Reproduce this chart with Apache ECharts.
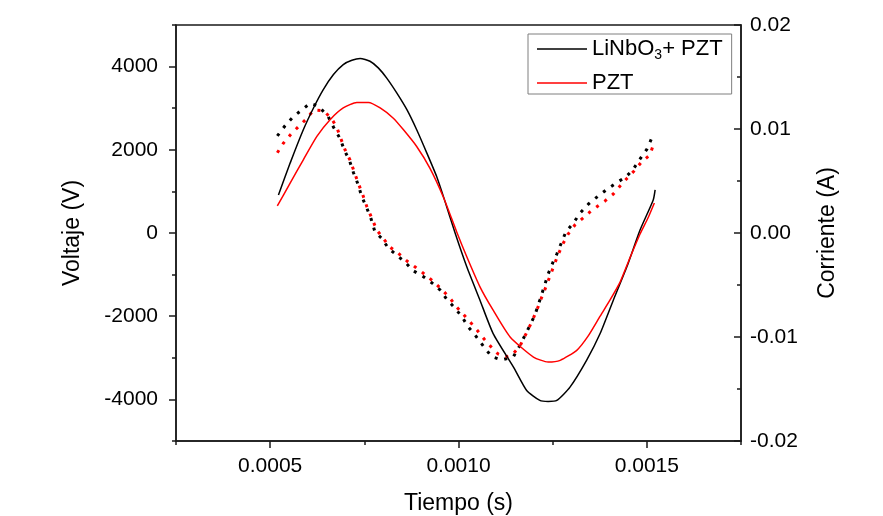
<!DOCTYPE html>
<html><head><meta charset="utf-8">
<script src="https://cdn.jsdelivr.net/npm/echarts@6/dist/echarts.min.js"></script>
<style>html,body{margin:0;padding:0;background:#fff;}#c{width:883px;height:516px;}</style>
</head><body><div id="c"></div>
<script>
// Voltage, LiNbO3 + PZT (s, V)
const timeBlackV = [0.000522,0.000553,0.000588,0.000615,0.000641,0.000668,0.000694,0.000717,0.000739,0.000765,0.000787,0.000809,0.000836,0.000863,0.000889,0.000916,0.000942,0.000962,0.000991,0.001022,0.001057,0.001092,0.001146,0.001181,0.001216,0.001238,0.001261,0.001296,0.00134,0.001376,0.001411,0.001447,0.001482,0.001517,0.001522];
const voltBlack = [916,1680,2482,3005,3446,3808,4049,4152,4193,4128,3969,3728,3367,2964,2482,1921,1357,820,0,-812,-1615,-2417,-3222,-3784,-4025,-4050,-4025,-3704,-3061,-2417,-1615,-812,72,795,1036];
// Voltage, PZT
const timeRedV = [0.000519,0.000553,0.000588,0.000624,0.000659,0.000694,0.00073,0.000761,0.000792,0.000827,0.000854,0.000889,0.000924,0.00096,0.000995,0.001022,0.001057,0.001092,0.001137,0.001199,0.001238,0.00127,0.001314,0.001344,0.001376,0.001402,0.001429,0.001455,0.001482,0.001503,0.00152];
const voltRed = [651,1198,1759,2321,2723,3005,3140,3140,3005,2760,2480,2080,1560,860,31,-571,-1294,-1856,-2499,-2981,-3102,-3061,-2820,-2480,-2000,-1615,-1180,-600,-24,360,723];
// Current, LiNbO3 + PZT (s, A)
const timeBlackI = [0.000519,0.000539,0.000561,0.000584,0.000606,0.000628,0.000654,0.000668,0.000685,0.000697,0.000711,0.000721,0.000733,0.000743,0.000756,0.000768,0.000778,0.000796,0.000814,0.000836,0.000861,0.00088,0.000907,0.000929,0.000951,0.000969,0.000991,0.001009,0.001026,0.001044,0.001066,0.001088,0.001115,0.001146,0.001161,0.001177,0.00119,0.001203,0.001216,0.001228,0.001238,0.00125,0.001261,0.001274,0.001285,0.001305,0.001323,0.001345,0.001371,0.001398,0.00142,0.001445,0.001464,0.001482,0.0015,0.001513];
const currBlack = [0.00933,0.01029,0.01118,0.01183,0.01247,0.01221,0.0112,0.01019,0.00911,0.00798,0.00692,0.00582,0.00471,0.00352,0.00245,0.00135,0.00013,-0.00051,-0.00147,-0.00212,-0.00291,-0.00363,-0.0042,-0.00478,-0.00548,-0.00638,-0.00724,-0.00805,-0.00904,-0.00981,-0.01087,-0.01189,-0.01221,-0.01189,-0.01093,-0.00981,-0.00885,-0.00788,-0.00644,-0.0051,-0.00394,-0.00288,-0.00202,-0.00087,0.0001,0.00096,0.00192,0.00279,0.00356,0.0043,0.00484,0.00541,0.00613,0.00712,0.00805,0.00911];
// Current, PZT
const timeRedI = [0.000519,0.000535,0.000555,0.000575,0.000595,0.000616,0.000641,0.000662,0.000677,0.000687,0.000699,0.000712,0.000723,0.000734,0.000746,0.000757,0.00077,0.000783,0.0008,0.000818,0.000839,0.000863,0.000885,0.000906,0.000932,0.000954,0.000975,0.000993,0.001012,0.001031,0.001049,0.001068,0.001089,0.001105,0.001124,0.001142,0.001163,0.001179,0.001193,0.001206,0.001219,0.001232,0.001243,0.001254,0.001264,0.001277,0.001291,0.001309,0.001328,0.001349,0.00137,0.001389,0.001411,0.001429,0.001447,0.001466,0.001486,0.001508,0.001519];
const currRed = [0.00772,0.00863,0.00949,0.01022,0.01093,0.01183,0.01176,0.01106,0.01016,0.00913,0.00798,0.00702,0.00589,0.00478,0.00365,0.0025,0.00141,0.00029,-0.00051,-0.00135,-0.00192,-0.00269,-0.00327,-0.00385,-0.00462,-0.00538,-0.00615,-0.00702,-0.00779,-0.00856,-0.00933,-0.01019,-0.01106,-0.01163,-0.01192,-0.01173,-0.01087,-0.00971,-0.00865,-0.0076,-0.00635,-0.00519,-0.00413,-0.00308,-0.00212,-0.00106,-0.0001,0.00077,0.00135,0.00202,0.0026,0.00308,0.00375,0.00452,0.00524,0.00596,0.00683,0.0075,0.00865];

const xTickLabels = [0.0005, 0.0010, 0.0015];
const yLeftLabels = [-4000, -2000, 0, 2000, 4000];
const seriesNames = ['LiNbO3+ PZT', 'PZT'];

const pairs = (t, v) => t.map((x, i) => [x, v[i]]);
const FONT = 'Liberation Sans, Arial, sans-serif';
const AX = '#1a1a1a';

const chart = echarts.init(document.getElementById('c'), null, {renderer: 'canvas'});
chart.setOption({
  animation: false,
  backgroundColor: '#ffffff',
  grid: {left: 176, right: 142, top: 25, bottom: 75, containLabel: false, outerBoundsMode: 'none',
    show: true, borderColor: AX, borderWidth: 1.5, backgroundColor: 'transparent'},
  legend: {
    orient: 'vertical', left: 528, top: 34,
    data: seriesNames,
    icon: 'rect', itemWidth: 50, itemHeight: 1.5, itemGap: 10,
    borderColor: '#7f7f7f', borderWidth: 1, borderRadius: 0,
    padding: [4, 9, 0, 9],
    textStyle: {fontFamily: FONT, fontSize: 22, color: '#000',
      rich: {s: {fontFamily: FONT, fontSize: 14, color: '#000', padding: [12, 0, 0, 0]}}},
    formatter: n => n === seriesNames[0] ? 'LiNbO{s|3}+ PZT' : n
  },
  xAxis: [{
    type: 'value', min: 0.00025, max: 0.00175, interval: 0.00025, position: 'bottom',
    name: 'Tiempo (s)', nameLocation: 'middle', nameGap: 51,
    nameTextStyle: {fontFamily: FONT, fontSize: 23, color: '#000'},
    axisLine: {show: true, onZero: false, lineStyle: {color: AX, width: 1.5}},
    axisTick: {show: true, inside: false, length: 4, lineStyle: {color: AX, width: 1.5}},
    axisLabel: {show: true, margin: 15, fontFamily: FONT, fontSize: 21, color: '#000',
      customValues: xTickLabels, formatter: v => v.toFixed(4)},
    splitLine: {show: false}
  }, {
    type: 'value', min: 0.00025, max: 0.00175, position: 'bottom',
    axisLine: {show: false, onZero: false},
    axisTick: {show: true, inside: false, length: 7, customValues: xTickLabels, lineStyle: {color: AX, width: 1.5}},
    axisLabel: {show: false},
    splitLine: {show: false}
  }],
  yAxis: [{
    type: 'value', min: -5000, max: 5000, interval: 1000, position: 'left',
    name: 'Voltaje (V)', nameLocation: 'middle', nameGap: 92,
    nameTextStyle: {fontFamily: FONT, fontSize: 23, color: '#000'},
    axisLine: {show: true, onZero: false, lineStyle: {color: AX, width: 1.5}},
    axisTick: {show: true, inside: false, length: 4, lineStyle: {color: AX, width: 1.5}},
    axisLabel: {show: true, margin: 18, fontFamily: FONT, fontSize: 21, color: '#000',
      customValues: yLeftLabels, formatter: v => String(v)},
    splitLine: {show: false}
  }, {
    type: 'value', min: -0.02, max: 0.02, interval: 0.01, position: 'right',
    name: 'Corriente (A)', nameLocation: 'middle', nameGap: 75,
    nameTextStyle: {fontFamily: FONT, fontSize: 23, color: '#000'},
    axisLine: {show: true, onZero: false, lineStyle: {color: AX, width: 1.5}},
    axisTick: {show: true, inside: true, length: 7, lineStyle: {color: AX, width: 1.5}},
    minorTick: {show: true, splitNumber: 2, length: 4, lineStyle: {color: AX, width: 1.5}},
    axisLabel: {show: true, margin: 9, fontFamily: FONT, fontSize: 21, color: '#000',
      formatter: v => v.toFixed(2)},
    splitLine: {show: false}
  }, {
    type: 'value', min: -5000, max: 5000, position: 'left',
    axisLine: {show: false, onZero: false},
    axisTick: {show: true, inside: false, length: 7, customValues: yLeftLabels, lineStyle: {color: AX, width: 1.5}},
    axisLabel: {show: false},
    splitLine: {show: false}
  }],
  series: [
    {name: 'LiNbO3+ PZT corriente', type: 'line', xAxisIndex: 0, yAxisIndex: 1, data: pairs(timeBlackI, currBlack),
      showSymbol: false, color: '#000', lineStyle: {color: '#000', width: 3, type: [3, 7]}, z: 2},
    {name: 'PZT corriente', type: 'line', xAxisIndex: 0, yAxisIndex: 1, data: pairs(timeRedI, currRed),
      showSymbol: false, color: '#ff0000', lineStyle: {color: '#ff0000', width: 3, type: [3, 7]}, z: 3},
    {name: seriesNames[0], type: 'line', xAxisIndex: 0, yAxisIndex: 0, data: pairs(timeBlackV, voltBlack),
      showSymbol: false, smooth: 0.2, color: '#000', lineStyle: {color: '#000', width: 1.5}, z: 4},
    {name: seriesNames[1], type: 'line', xAxisIndex: 0, yAxisIndex: 0, data: pairs(timeRedV, voltRed),
      showSymbol: false, smooth: 0.2, color: '#ff0000', lineStyle: {color: '#ff0000', width: 1.5}, z: 5}
  ]
});
</script>
</body></html>
